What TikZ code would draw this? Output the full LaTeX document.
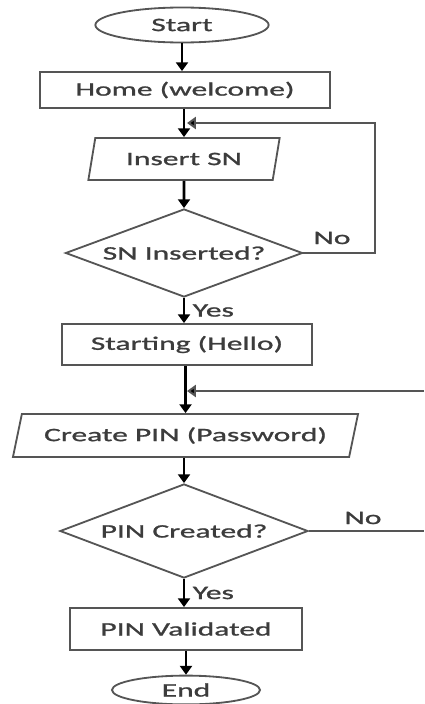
\documentclass[tikz,border=0pt]{standalone}
\usepackage{fontspec}
\setmainfont{Carlito}[FakeStretch=1.66,FakeBold=1.2]
\usepackage{tikz}
\usetikzlibrary{shapes.geometric}
\usetikzlibrary{arrows.meta}
\definecolor{txtgray}{HTML}{3C3C3C}
\definecolor{boxgray}{HTML}{555555}
\tikzstyle{every node}=[font=\fontsize{13.5}{16}\selectfont,text=txtgray]
\tikzstyle{terminal}=[ellipse,draw=boxgray,line width=1.3pt,inner sep=0pt]
\tikzstyle{process}=[rectangle,draw=boxgray,line width=1.3pt,inner sep=0pt]
\tikzstyle{io}=[trapezium,trapezium stretches=true,draw=boxgray,line width=1.3pt,inner sep=0pt]
\tikzstyle{decision}=[diamond,shape aspect=2.7,draw=boxgray,line width=1.3pt,inner sep=0pt]
\tikzstyle{flowline}=[line width=1.8pt,draw=black,-{Triangle[width=0.3cm,length=0.22cm]}]
\tikzstyle{loopline}=[line width=1.4pt,draw=boxgray,-{Triangle[width=0.3cm,length=0.22cm,fill=black]}]

\begin{document}
\begin{tikzpicture}[x=0.025cm,y=-0.025cm]
\useasboundingbox (0,0) rectangle (424,704);
% shapes, centred on the pixel grid of the flowchart
\node[terminal,minimum width=4.33cm,minimum height=0.875cm] (start) at (182,25) {Start};
\node[process,minimum width=7.25cm,minimum height=0.9cm] (home) at (185,90) {Home (welcome)};
\node[io,trapezium left angle=70,trapezium right angle=110,minimum width=4.8cm,minimum height=1.05cm] (insert) at (184,159) {Insert SN};
\node[decision,minimum width=5.925cm,minimum height=2.2cm] (sncheck) at (184,253) {SN Inserted?};
\node[process,minimum width=6.25cm,minimum height=1.025cm] (starting) at (187,344.5) {Starting (Hello)};
\node[io,trapezium left angle=65,trapezium right angle=115,minimum width=8.625cm,minimum height=1.075cm] (create) at (185.5,435.5) {Create PIN (Password)};
\node[decision,minimum width=6.2cm,minimum height=2.35cm] (pincheck) at (184,531) {PIN Created?};
\node[process,minimum width=5.8cm,minimum height=1.05cm] (valid) at (186,629) {PIN Validated};
\node[terminal,minimum width=3.7cm,minimum height=0.72cm] (end) at (186,690) {End};

\coordinate (J1) at (187,123);
\coordinate (R1) at (375,253);
\coordinate (C1) at (375,123);
\coordinate (J2) at (187,391);
\coordinate (R2) at (424,531);
\coordinate (C2) at (424,391);

\draw[flowline] (start.south) -- (home.north -| start.south);
\draw[flowline] (home.south -| insert.north) -- (insert.north);
\draw[flowline] (insert.south) -- (sncheck.north);
\draw[flowline] (sncheck.south) -- (starting.north -| sncheck.south) node[midway,right,xshift=2pt] {Yes};
\draw[flowline] (starting.south -| create.north) -- (create.north);
\draw[flowline] (create.south -| pincheck.north) -- (pincheck.north);
\draw[flowline] (pincheck.south) -- (valid.north -| pincheck.south) node[midway,right,xshift=2pt] {Yes};
\draw[flowline] (valid.south -| end.north) -- (end.north);

\draw[loopline] (sncheck.east) -- (R1) -- (C1) -- (J1);
\node (no1) at (332,238) {No};
\draw[line width=1.4pt,draw=boxgray] (pincheck.east) -- (R2);
\node (no2) at (363,518) {No};
\draw[loopline] (C2) -- (J2);

\end{tikzpicture}
\end{document}
